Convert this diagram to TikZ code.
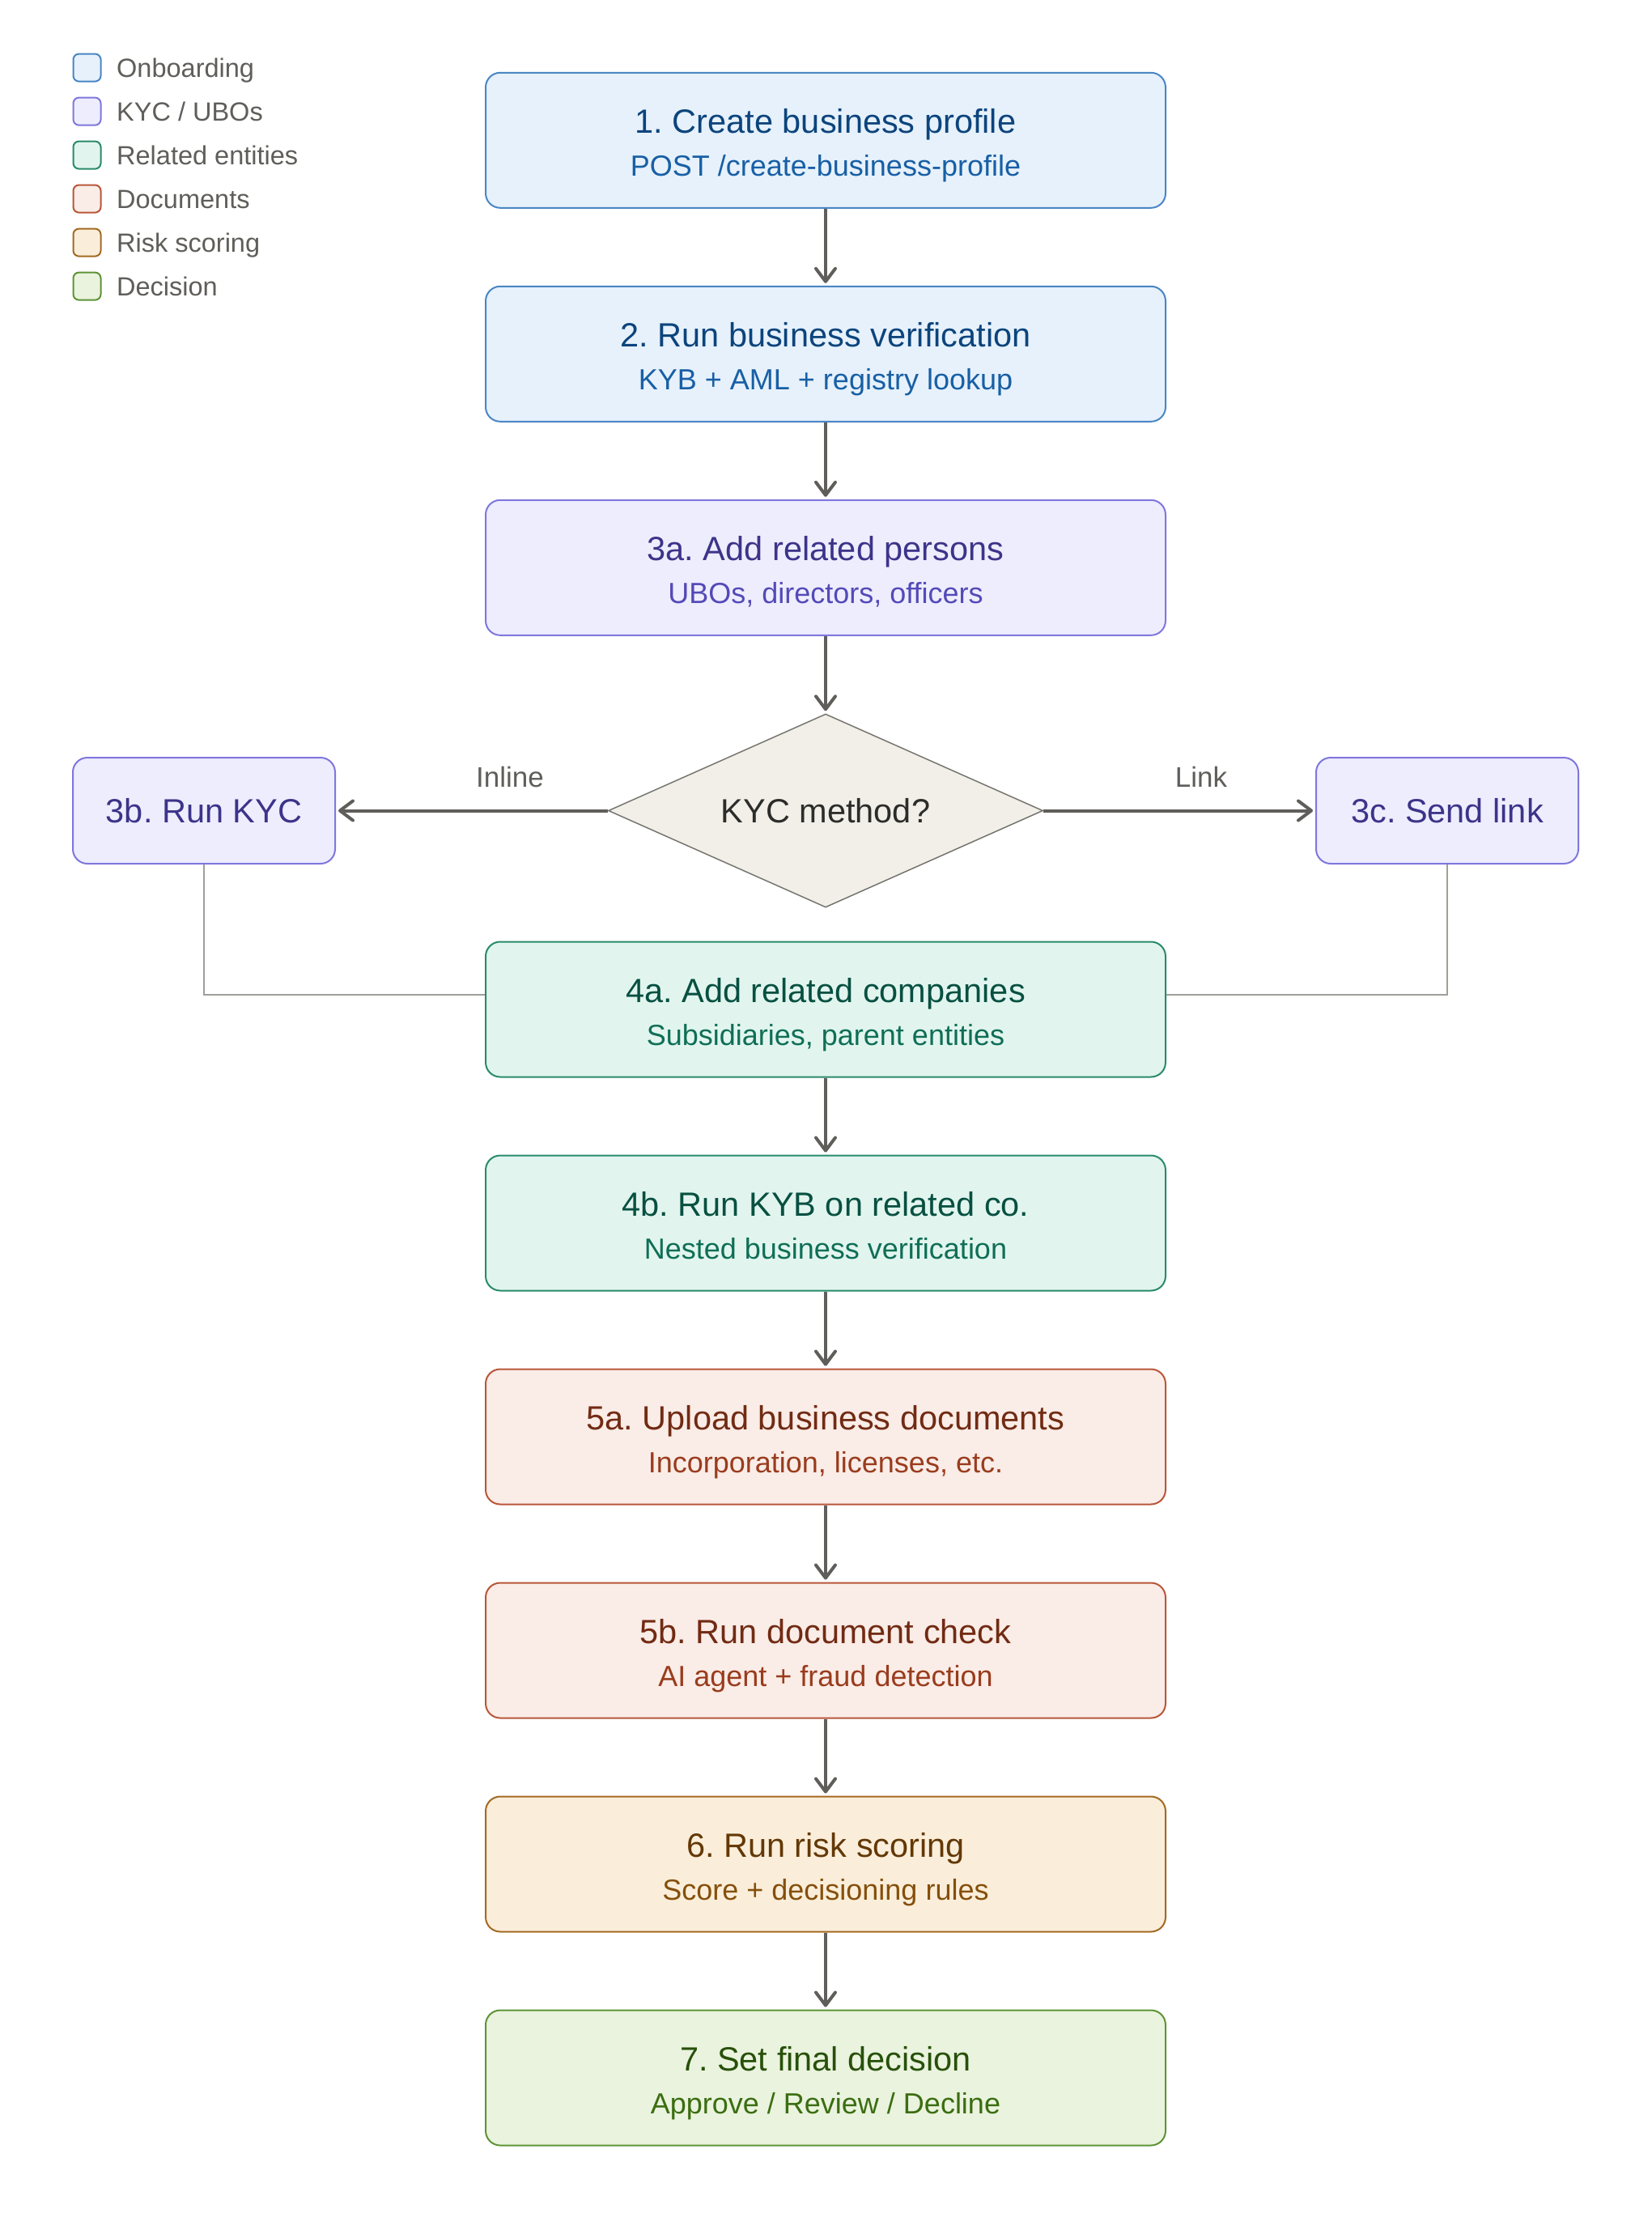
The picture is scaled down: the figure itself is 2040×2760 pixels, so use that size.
\documentclass[tikz,border=0pt]{standalone}
\usepackage{fontspec}
\setmainfont{Liberation Sans}
\usetikzlibrary{shapes.geometric,arrows.meta}
\frenchspacing
\definecolor{bluefill}{HTML}{E6F1FB}\definecolor{blueline}{HTML}{4A86C5}\definecolor{bluetitle}{HTML}{0C447C}\definecolor{bluesub}{HTML}{185FA5}
\definecolor{purpfill}{HTML}{EEEDFE}\definecolor{purpline}{HTML}{7F77DD}\definecolor{purptitle}{HTML}{3C3489}\definecolor{purpsub}{HTML}{534AB7}
\definecolor{tealfill}{HTML}{E1F5EE}\definecolor{tealline}{HTML}{2A8A6C}\definecolor{tealtitle}{HTML}{085041}\definecolor{tealsub}{HTML}{0F6E56}
\definecolor{corafill}{HTML}{FAECE7}\definecolor{coraline}{HTML}{B9573A}\definecolor{coratitle}{HTML}{712B13}\definecolor{corasub}{HTML}{993C1D}
\definecolor{ambrfill}{HTML}{FAEEDA}\definecolor{ambrline}{HTML}{A36A22}\definecolor{ambrtitle}{HTML}{633806}\definecolor{ambrsub}{HTML}{854F0B}
\definecolor{grnfill}{HTML}{EAF3DE}\definecolor{grnline}{HTML}{5E9436}\definecolor{grntitle}{HTML}{27500A}\definecolor{grnsub}{HTML}{3B6D11}
\definecolor{grayfill}{HTML}{F1EFE8}\definecolor{grayline}{HTML}{76756F}\definecolor{graytext}{HTML}{2C2C2A}
\definecolor{arrowgray}{HTML}{5F5E5A}\definecolor{linkgray}{HTML}{A09F9A}\definecolor{legtextc}{HTML}{5F5E5A}
\newcommand{\flowbox}[5]{%
  \node[mainbox, fill=#3fill, draw=#3line] (#1) at (1020,#2) {};
  \node[titletext, text=#3title, anchor=base] (#1t) at ([yshift=8.5pt]#1.center) {#4};
  \node[subtext, text=#3sub, anchor=base] (#1s) at ([yshift=-44pt]#1.center) {#5};
}
\newcommand{\legrow}[4]{%
  \node[legsq, fill=#2fill, draw=#2line] (#1) at (107.5,#3) {};
  \node[legtext, anchor=base west] (#1t) at (144,#3+11.5) {#4};
}
\begin{document}
\begin{tikzpicture}[x=1pt,y=-1pt,
  mainbox/.style={rectangle, rounded corners=18pt, minimum width=840pt, minimum height=167pt, line width=2pt, inner sep=0pt},
  sidebox/.style={rectangle, rounded corners=18pt, minimum width=324pt, minimum height=131pt, line width=2pt, inner sep=0pt, fill=purpfill, draw=purpline, text=purptitle, font=\fontsize{41.5}{48}\selectfont},
  titletext/.style={inner sep=0pt, font=\fontsize{41.5}{48}\selectfont},
  subtext/.style={inner sep=0pt, font=\fontsize{36}{42}\selectfont},
  legsq/.style={rectangle, rounded corners=7pt, minimum width=34pt, minimum height=34pt, line width=2pt, inner sep=0pt},
  legtext/.style={inner sep=0pt, text=legtextc, font=\fontsize{32.5}{38}\selectfont},
  edgelabel/.style={inner sep=0pt, text=legtextc, font=\fontsize{35}{40}\selectfont},
  flowarrow/.style={draw=arrowgray, line width=4pt, shorten >=3pt, -{Straight Barb[length=16pt,width=24pt,line cap=round,line join=round]}},
  joinline/.style={draw=linkgray, line width=2pt},
  decision/.style={diamond, shape aspect=2.25, minimum width=537pt, minimum height=239pt, inner sep=0pt, fill=grayfill, draw=grayline, line width=1.5pt, text=graytext, text depth=0pt, font=\fontsize{41.5}{48}\selectfont}
]
\useasboundingbox (0,0) rectangle (2040,2760);
\fill[white] (0,0) rectangle (2040,2760);

% legend
\legrow{lg1}{blue}{83.6}{Onboarding}
\legrow{lg2}{purp}{137.6}{KYC / UBOs}
\legrow{lg3}{teal}{191.6}{Related entities}
\legrow{lg4}{cora}{245.6}{Documents}
\legrow{lg5}{ambr}{299.6}{Risk scoring}
\legrow{lg6}{grn}{353.6}{Decision}

% main flow
\flowbox{b1}{173.3}{blue}{1. Create business profile}{POST /create-business-profile}
\flowbox{b2}{437.3}{blue}{2. Run business verification}{KYB + AML + registry lookup}
\flowbox{b3a}{701.3}{purp}{3a. Add related persons}{UBOs, directors, officers}
\node[decision] (dec) at (1020,1001.5) {KYC method?};
\node[sidebox] (b3b) at (252,1001.5) {3b. Run KYC};
\node[sidebox] (b3c) at (1788,1001.5) {3c. Send link};
\flowbox{b4a}{1247}{teal}{4a. Add related companies}{Subsidiaries, parent entities}
\flowbox{b4b}{1511}{teal}{4b. Run KYB on related co.}{Nested business verification}
\flowbox{b5a}{1775}{cora}{5a. Upload business documents}{Incorporation, licenses, etc.}
\flowbox{b5b}{2039}{cora}{5b. Run document check}{AI agent + fraud detection}
\flowbox{b6}{2303}{ambr}{6. Run risk scoring}{Score + decisioning rules}
\flowbox{b7}{2567}{grn}{7. Set final decision}{Approve / Review / Decline}

% edge labels
\node[edgelabel, anchor=base] (lblinline) at (630,972) {Inline};
\node[edgelabel, anchor=base] (lbllink) at (1484,972) {Link};

% connectors
\draw[flowarrow] (b1) -- (b2);
\draw[flowarrow] (b2) -- (b3a);
\draw[flowarrow] (b3a) -- (dec);
\draw[flowarrow] (dec) -- (b3b);
\draw[flowarrow] (dec) -- (b3c);
\draw[joinline] (b3b.south) |- ([yshift=18.5pt]b4a.west);
\draw[joinline] (b3c.south) |- ([yshift=18.5pt]b4a.east);
\draw[flowarrow] (b4a) -- (b4b);
\draw[flowarrow] (b4b) -- (b5a);
\draw[flowarrow] (b5a) -- (b5b);
\draw[flowarrow] (b5b) -- (b6);
\draw[flowarrow] (b6) -- (b7);
\end{tikzpicture}
\end{document}
